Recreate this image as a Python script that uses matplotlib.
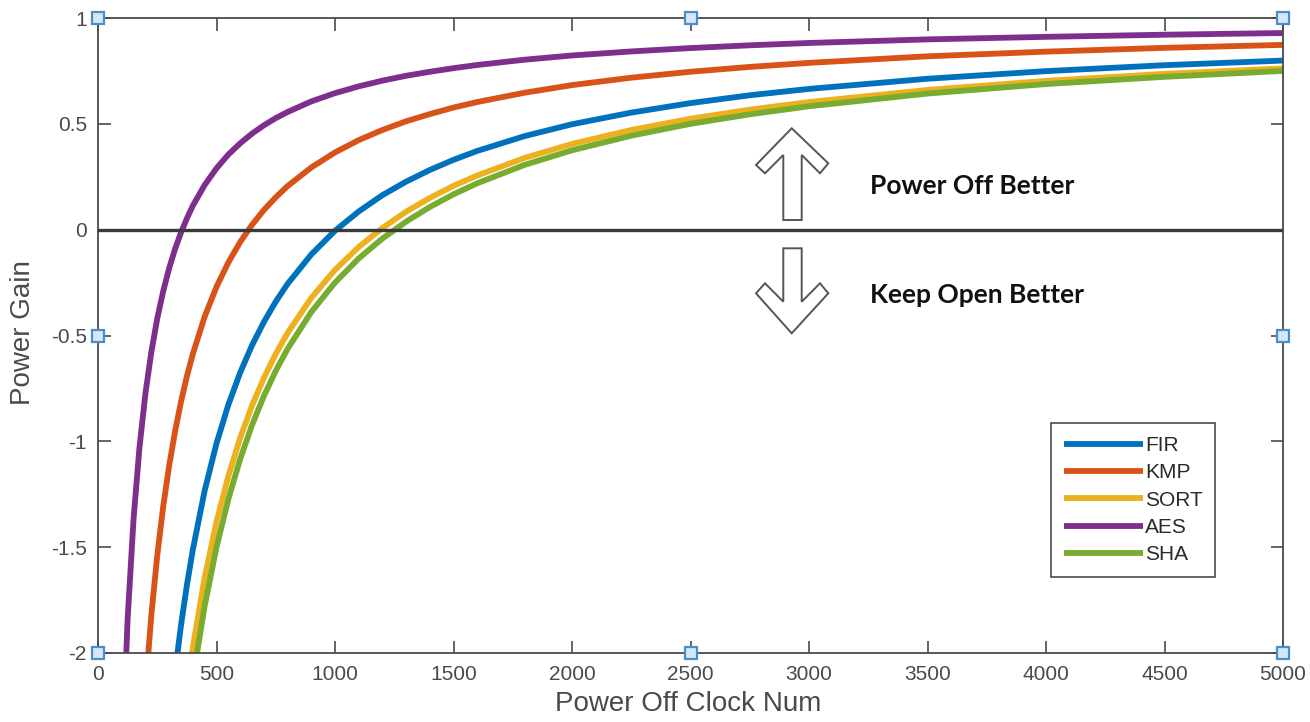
"""Power gain vs. power-off clock count (MATLAB-style figure)."""

import matplotlib
matplotlib.use("Agg")
import matplotlib.pyplot as plt
from matplotlib.patches import Polygon

# power-off clock counts at which values were read
clock_num = [100, 125, 150, 175, 200, 225, 250, 275, 300, 325, 350, 375, 400,
             450, 500, 550, 600, 650, 700, 750, 800, 900, 1000, 1100, 1200,
             1300, 1400, 1500, 1600, 1800, 2000, 2250, 2500, 2750, 3000, 3500,
             4000, 4500, 5000]

gain_fir = [-9.05, -7.04, -5.7, -4.743, -4.025, -3.467, -3.02, -2.655, -2.35,
            -2.092, -1.871, -1.68, -1.513, -1.233, -1.01, -0.827, -0.675, -0.546,
            -0.436, -0.34, -0.256, -0.117, -0.005, 0.086, 0.163, 0.227, 0.282,
            0.33, 0.372, 0.442, 0.498, 0.553, 0.598, 0.635, 0.665, 0.713, 0.749,
            0.777, 0.799]
gain_kmp = [-5.35, -4.08, -3.233, -2.629, -2.175, -1.822, -1.54, -1.309, -1.117,
            -0.954, -0.814, -0.693, -0.588, -0.411, -0.27, -0.155, -0.058, 0.023,
            0.093, 0.153, 0.206, 0.294, 0.365, 0.423, 0.471, 0.512, 0.546, 0.577,
            0.603, 0.647, 0.683, 0.718, 0.746, 0.769, 0.788, 0.819, 0.841, 0.859,
            0.873]
gain_sort = [-10.9, -8.52, -6.933, -5.8, -4.95, -4.289, -3.76, -3.327, -2.967,
             -2.662, -2.4, -2.173, -1.975, -1.644, -1.38, -1.164, -0.983, -0.831,
             -0.7, -0.587, -0.488, -0.322, -0.19, -0.082, 0.008, 0.085, 0.15,
             0.207, 0.256, 0.339, 0.405, 0.471, 0.524, 0.567, 0.603, 0.66, 0.703,
             0.736, 0.762]
gain_aes = [-2.55, -1.84, -1.367, -1.029, -0.775, -0.578, -0.42, -0.291, -0.183,
            -0.092, -0.014, 0.053, 0.113, 0.211, 0.29, 0.355, 0.408, 0.454, 0.493,
            0.527, 0.556, 0.606, 0.645, 0.677, 0.704, 0.727, 0.746, 0.763, 0.778,
            0.803, 0.823, 0.842, 0.858, 0.871, 0.882, 0.899, 0.911, 0.921, 0.929]
gain_sha = [-11.5, -9.0, -7.333, -6.143, -5.25, -4.556, -4.0, -3.545, -3.167,
            -2.846, -2.571, -2.333, -2.125, -1.778, -1.5, -1.273, -1.083, -0.923,
            -0.786, -0.667, -0.563, -0.389, -0.25, -0.136, -0.042, 0.038, 0.107,
            0.167, 0.219, 0.306, 0.375, 0.444, 0.5, 0.545, 0.583, 0.643, 0.688,
            0.722, 0.75]

series_names = ["FIR", "KMP", "SORT", "AES", "SHA"]
series_vals = [gain_fir, gain_kmp, gain_sort, gain_aes, gain_sha]
colors = ["#0072BD", "#D95319", "#EDB120", "#7E2F8E", "#77AC30"]

x_ticks = list(range(0, 5001, 500))
y_ticks = [-2, -1.5, -1, -0.5, 0, 0.5, 1]
y_tick_labels = ["-2", "-1.5", "-1", "-0.5", "0", "0.5", "1"]

plt.rcParams["font.family"] = ["Liberation Sans", "DejaVu Sans"]

W, H = 1310, 722
fig = plt.figure(figsize=(W / 100, H / 100), dpi=100)
ax = fig.add_axes([98 / W, 1 - 653 / H, (1283 - 98) / W, (653 - 18) / H])

for name, vals, c in zip(series_names, series_vals, colors):
    ax.plot(clock_num, vals, color=c, lw=4.2, label=name, solid_capstyle="butt")

ax.axhline(0, color="#3a3a3a", lw=2.4, zorder=5)

ax.set_xlim(0, 5000)
ax.set_ylim(-2, 1)
ax.set_xticks(x_ticks)
ax.set_yticks(y_ticks)
ax.set_yticklabels(y_tick_labels)
ax.tick_params(direction="in", length=9, width=1.2, colors="#4a4a4a",
               labelsize=15, top=True, right=True)
ax.tick_params(axis="x", pad=9)
ax.tick_params(axis="y", pad=8)
for s in ax.spines.values():
    s.set_color("#4a4a4a")
    s.set_linewidth(1.3)
ax.set_xlabel("Power Off Clock Num", fontsize=20, color="#4a4a4a", va="center")
ax.set_ylabel("Power Gain", fontsize=20, color="#4a4a4a", va="center")
ax.xaxis.set_label_coords(0.498, -0.080)
ax.yaxis.set_label_coords(-0.063, 0.504)

leg = ax.legend(loc="lower right", bbox_to_anchor=(0.943, 0.12), fontsize=15,
                handlelength=3.8, handletextpad=0.1, labelspacing=0.4,
                borderpad=0.6, borderaxespad=0, fancybox=False, framealpha=1)
leg.get_frame().set_edgecolor("#4a4a4a")
leg.get_frame().set_linewidth(1.2)
for t in leg.get_texts():
    t.set_color("#2a2a2a")

# selection handles at corners and edge midpoints
x0, x1 = ax.get_xlim()
y0, y1 = ax.get_ylim()
hx = [x0, (x0 + x1) / 2, x1, x0, x1, x0, (x0 + x1) / 2, x1]
hy = [y1, y1, y1, (y0 + y1) / 2, (y0 + y1) / 2, y0, y0, y0]
ax.plot(hx, hy, ls="none", marker="s", ms=8, mfc="#d6e8f7", mec="#4a8fcc",
        mew=1.6, clip_on=False, zorder=10)


def px(points):
    return [(x / W, 1 - y / H) for x, y in points]


up_arrow = [(791.7, 128.3), (828.3, 163.3), (820, 173.3), (801.7, 155),
            (801.7, 220), (783.3, 220), (783.3, 155), (765, 173.3), (756, 165)]
down_arrow = [(783.3, 248.3), (801.7, 248.3), (801.7, 301.7), (820, 283.3),
              (828.3, 293.3), (791.7, 333.3), (756, 293.3), (765, 283.3),
              (783.3, 301.7)]
for shape in (up_arrow, down_arrow):
    fig.patches.append(Polygon(px(shape), closed=True, facecolor="white",
                               edgecolor="#555555", lw=1.4,
                               transform=fig.transFigure, zorder=6))

fig.text(870 / W, 1 - 186 / H, "Power Off Better", fontsize=19, fontweight="bold",
         family=["Lato", "DejaVu Sans"], color="#111111", va="center", ha="left")
fig.text(870 / W, 1 - 295 / H, "Keep Open Better", fontsize=19, fontweight="bold",
         family=["Lato", "DejaVu Sans"], color="#111111", va="center", ha="left")

fig.savefig("out.png", dpi=100)
